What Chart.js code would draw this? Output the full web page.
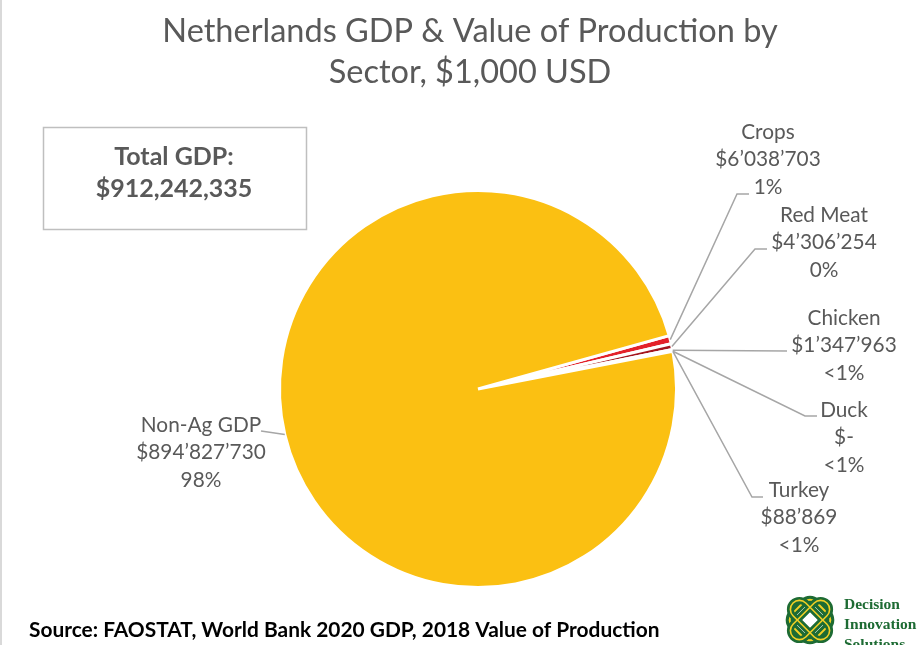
<!DOCTYPE html>
<html>
<head>
<meta charset="utf-8">
<script src="https://cdn.jsdelivr.net/npm/chart.js@4/dist/chart.umd.min.js"></script>
<style>
html,body{margin:0;padding:0;background:#fff;}
#wrap{position:relative;width:919px;height:645px;overflow:hidden;border-left:2px solid #d9d9d9;box-sizing:border-box;}
canvas{display:block;}
#logo{position:absolute;left:780px;top:588px;}
</style>
</head>
<body>
<div id="wrap">
<canvas id="pie" width="917" height="645"></canvas>
<svg id="logo" width="140" height="60" viewBox="0 0 140 60">
  <g transform="translate(28,32) rotate(45)" fill="none">
    <rect x="-17" y="-17" width="34" height="34" rx="9" stroke="#1d6b33" stroke-width="8"/>
    <rect x="-17" y="-17" width="34" height="34" rx="9" stroke="#f2d024" stroke-width="2"/>
    <rect x="-9" y="-24" width="18" height="48" rx="9" stroke="#1d6b33" stroke-width="7"/>
    <rect x="-24" y="-9" width="48" height="18" rx="9" stroke="#1d6b33" stroke-width="7"/>
    <rect x="-9" y="-24" width="18" height="48" rx="9" stroke="#f2d024" stroke-width="1.6"/>
    <rect x="-24" y="-9" width="48" height="18" rx="9" stroke="#f2d024" stroke-width="1.6"/>
  </g>
  <text x="62" y="21" font-family="Liberation Serif" font-weight="bold" font-size="15.5" fill="#1d6b33">Decision</text>
  <text x="62" y="41" font-family="Liberation Serif" font-weight="bold" font-size="15.5" fill="#1d6b33">Innovation</text>
  <text x="62" y="61" font-family="Liberation Serif" font-weight="bold" font-size="15.5" fill="#1d6b33">Solutions</text>
</svg>
</div>
<script>
// DATA
const sectors = ["Crops", "Red Meat", "Chicken", "Duck", "Turkey", "Non-Ag GDP"];
const values = [6038703, 4306254, 1347963, 0, 88869, 894827730];
const pctLabels = ["1%", "0%", "<1%", "<1%", "<1%", "98%"];
const totalGdp = 912242335;

const colors = ["#e3212a", "#a3161f", "#fdd873", "#f4b183", "#ed7d31", "#fbc012"];

// label layout: text centre x, first line y, elbow point, end point
const labelPos = [
  {x:766, y:132, elbow:[735,194], end:[747,194]},
  {x:822, y:215, elbow:[753,249], end:[765,249]},
  {x:842, y:318, elbow:[785,351], end:[785,351]},
  {x:842, y:410, elbow:[803,416], end:[815,416]},
  {x:797, y:490, elbow:[750,497], end:[761,497]},
  {x:199, y:425, elbow:[259,431], end:[259,431]}
];

const FONT = "Lato";
const GREY = "#595959";

function money(v){
  if(v === 0) return "$-";
  return "$" + v.toString().replace(/\B(?=(\d{3})+(?!\d))/g, "’");
}

// DRAW EXTRAS
const extras = {
  id: "extras",
  afterDraw(chart){
    const ctx = chart.ctx;
    const meta = chart.getDatasetMeta(0);
    ctx.save();

    // title
    ctx.fillStyle = GREY;
    ctx.textAlign = "center";
    ctx.textBaseline = "middle";
    ctx.font = `32.5px ${FONT}`;
    ctx.fillText("Netherlands GDP & Value of Production by", 468, 32);
    ctx.fillText("Sector, $1,000 USD", 468, 73);

    // leader lines
    ctx.strokeStyle = "#a6a6a6";
    ctx.lineWidth = 1.5;
    meta.data.forEach((arc, i) => {
      const p = arc.getProps(["x","y","startAngle","endAngle","outerRadius"], true);
      const mid = (p.startAngle + p.endAngle) / 2;
      const sx = p.x + Math.cos(mid) * p.outerRadius;
      const sy = p.y + Math.sin(mid) * p.outerRadius;
      const L = labelPos[i];
      ctx.beginPath();
      ctx.moveTo(sx, sy);
      ctx.lineTo(L.elbow[0], L.elbow[1]);
      ctx.lineTo(L.end[0], L.end[1]);
      ctx.stroke();
    });

    // labels
    ctx.fillStyle = GREY;
    ctx.font = `20.8px ${FONT}`;
    sectors.forEach((s, i) => {
      const L = labelPos[i];
      const lines = [s, money(values[i]), pctLabels[i]];
      lines.forEach((t, j) => ctx.fillText(t, L.x, L.y + j * 27.5));
    });

    // total box
    ctx.strokeStyle = "#bfbfbf";
    ctx.lineWidth = 1.5;
    ctx.strokeRect(41.5, 127.5, 263, 102);
    ctx.font = `bold 25px ${FONT}`;
    ctx.fillText("Total GDP:", 172, 157);
    ctx.fillText("$" + totalGdp.toLocaleString("en-US"), 172, 189);

    // source
    ctx.fillStyle = "#000";
    ctx.textAlign = "left";
    ctx.font = `bold 20.9px ${FONT}`;
    ctx.fillText("Source: FAOSTAT, World Bank 2020 GDP, 2018 Value of Production", 27, 630);

    ctx.restore();
  }
};

new Chart(document.getElementById("pie"), {
  type: "pie",
  data: {
    labels: sectors,
    datasets: [{
      data: values,
      backgroundColor: colors,
      borderColor: "#ffffff",
      borderWidth: 3,
      hoverOffset: 0
    }]
  },
  options: {
    responsive: false,
    animation: false,
    rotation: 74.4,
    layout: {padding: {left: 276, right: 241, top: 188, bottom: 55}},
    plugins: {legend: {display: false}, tooltip: {enabled: false}}
  },
  plugins: [extras]
});
</script>
</body>
</html>
